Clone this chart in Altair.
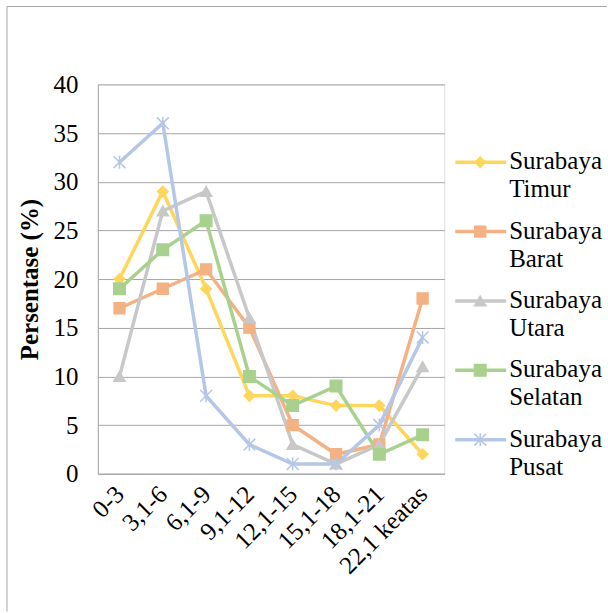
import altair as alt
import pandas as pd

categories = ["0-3", "3,1-6", "6,1-9", "9,1-12", "12,1-15", "15,1-18", "18,1-21", "22,1 keatas"]
series = ["Surabaya Timur", "Surabaya Barat", "Surabaya Utara", "Surabaya Selatan", "Surabaya Pusat"]
timur = [20, 29, 19, 8, 8, 7, 7, 2]
barat = [17, 19, 21, 15, 5, 2, 3, 18]
utara = [10, 27, 29, 16, 3, 1, 3, 11]
selatan = [19, 23, 26, 10, 7, 9, 2, 4]
pusat = [32, 36, 8, 3, 1, 1, 5, 14]
colors = ["#FFD65C", "#F4B183", "#C8C8C8", "#A9D18E", "#B4C7E7"]
star = "M-1,-1L1,1M-1,1L1,-1M0,-1.1L0,1.1"
shapes = ["diamond", "square", "triangle-up", "square", star]
sizes = [110, 140, 150, 140, 170]

FONT = "Liberation Serif"
FS = 25

rows = []
for s, vals in zip(series, [timur, barat, utara, selatan, pusat]):
    for i, (c, v) in enumerate(zip(categories, vals)):
        rows.append({"series": s, "cat": c, "val": v, "order": series.index(s)})
df = pd.DataFrame(rows)
leg = pd.DataFrame({"series": series, "label": [s.replace(" ", "\n") for s in series]})

color = alt.Color("series:N", scale=alt.Scale(domain=series, range=colors), legend=None)
stroke = alt.Stroke("series:N", scale=alt.Scale(domain=series, range=colors), legend=None)
shape = alt.Shape("series:N", scale=alt.Scale(domain=series, range=shapes), legend=None)
size = alt.Size("series:N", scale=alt.Scale(domain=series, range=sizes), legend=None)

xenc = alt.X("cat:N", sort=categories, scale=alt.Scale(type="point", padding=0.5),
             axis=alt.Axis(title=None, labelAngle=-45, labelAlign="right", labelBaseline="middle",
                           labelPadding=16, ticks=False, tickSize=0, domainColor="#A6A6A6",
                           labelFont=FONT, labelFontSize=FS, labelColor="#000000", grid=False))
yscale = alt.Scale(domain=[0, 40])

lines = alt.Chart(df).mark_line(strokeWidth=3.5).encode(
    x=xenc,
    y=alt.Y("val:Q", scale=yscale,
            axis=alt.Axis(title="Persentase (%)", values=list(range(0, 41, 5)), ticks=False, tickSize=0,
                          labelPadding=20, labelFont=FONT, labelFontSize=FS, labelColor="#000000",
                          titleFont=FONT, titleFontSize=FS, titleFontWeight="bold", titleColor="#000000",
                          titlePadding=10, domainColor="#A6A6A6", gridColor="#A6A6A6", gridWidth=1)),
    color=color,
    detail="series:N",
    order=alt.Order("order:Q"),
)
points = alt.Chart(df).mark_point(filled=True, opacity=1, strokeWidth=1.5).encode(
    x=alt.X("cat:N", sort=categories),
    y=alt.Y("val:Q", scale=yscale),
    color=color, stroke=stroke, shape=shape, size=size,
)
main = alt.layer(lines, points)

ly = alt.Y("series:N", scale=alt.Scale(type="point", domain=series, padding=0.806, align=0.696), axis=None)
lrule = alt.Chart(leg).mark_rule(strokeWidth=3.5).encode(
    x=alt.value(358), x2=alt.value(409), y=ly, color=color)
lpt = alt.Chart(leg).mark_point(filled=True, opacity=1, strokeWidth=1.5).encode(
    x=alt.value(383), y=ly, color=color, stroke=stroke, shape=shape, size=size)
ltext = alt.Chart(leg).mark_text(align="left", baseline="top", dy=-13, lineBreak="\n", lineHeight=28,
                                 font=FONT, fontSize=FS, color="#000000").encode(
    x=alt.value(412), y=ly, text="label:N")
legend = alt.layer(lrule, lpt, ltext)

one = pd.DataFrame({"a": [0]})
frame_l = alt.Chart(one).mark_rule(color="#A6A6A6", strokeWidth=1).encode(
    x=alt.value(-91), y=alt.value(-78), y2=alt.value(528))
frame_t = alt.Chart(one).mark_rule(color="#A6A6A6", strokeWidth=1).encode(
    x=alt.value(-91), x2=alt.value(510), y=alt.value(-78))

chart = alt.layer(main, legend, frame_l, frame_t).resolve_scale(y="independent").properties(
    width=347, height=390,
    padding={"left": 6, "top": 5, "right": 0, "bottom": 0},
).configure_view(stroke=None).configure(background="#ffffff")

chart.save("out.html", embed_options={"renderer": "svg", "actions": False})
